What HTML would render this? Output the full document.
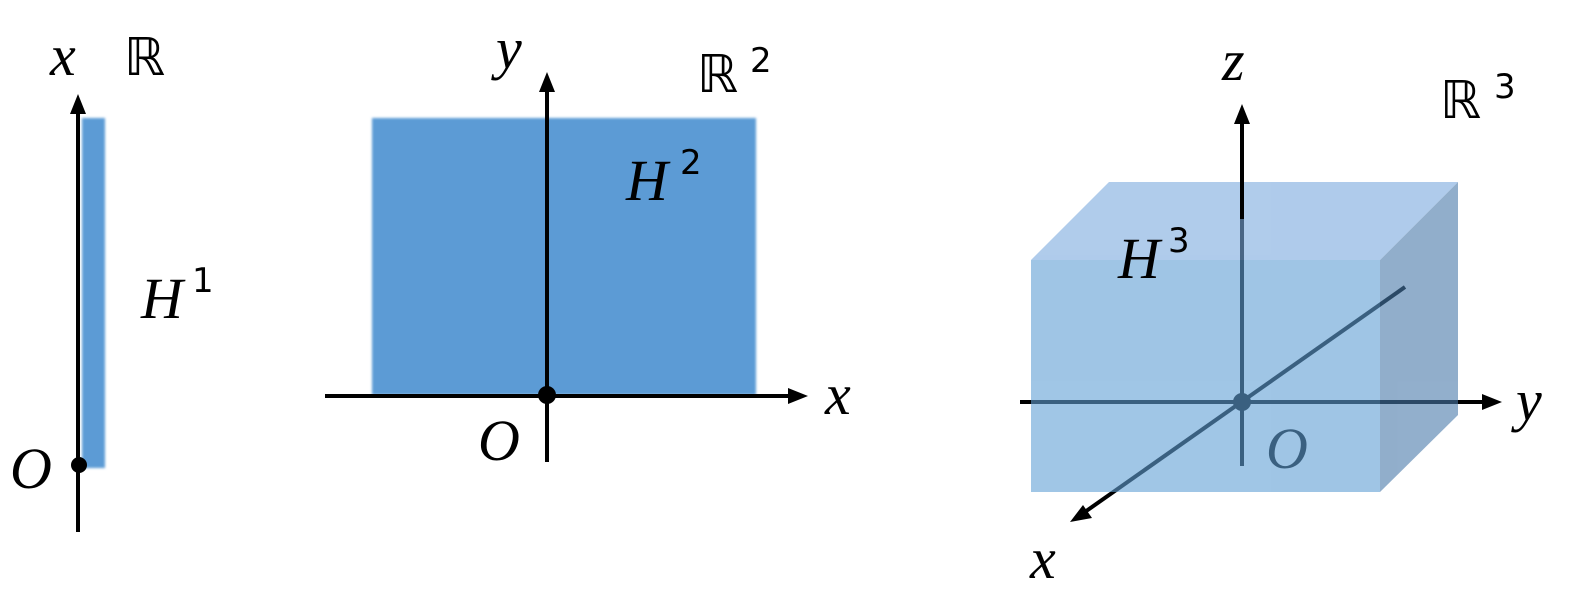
<!DOCTYPE html>
<html><head><style>html,body{margin:0;padding:0;background:#fff}svg{display:block}
text{font-family:"Liberation Serif","DejaVu Serif",serif;font-style:italic;fill:#000}
.r{font-style:normal;font-family:"DejaVu Sans","Liberation Sans",sans-serif}</style></head><body>
<svg width="1573" height="601" viewBox="0 0 1573 601" xmlns="http://www.w3.org/2000/svg">
<defs><filter id="b"><feGaussianBlur stdDeviation="1.2"/></filter></defs>
<!-- Left panel -->
<rect x="82" y="118" width="23" height="350" fill="#5b9bd5" filter="url(#b)"/>
<line x1="78" y1="110" x2="78" y2="532" stroke="#000" stroke-width="4"/>
<polygon points="78,94 70,114 86,114" fill="#000"/>
<circle cx="79" cy="465" r="8" fill="#000"/>
<text x="50" y="75" font-size="58">x</text>
<text x="124" y="75" font-size="52" class="r">ℝ</text>
<text x="141" y="318" font-size="58">H</text><text x="192" y="292" font-size="34" class="r">1</text>
<text x="10" y="488" font-size="58">O</text>
<!-- Middle panel -->
<rect x="372" y="118" width="384" height="277" fill="#5b9bd5" filter="url(#b)"/>
<line x1="547" y1="88" x2="547" y2="462" stroke="#000" stroke-width="4"/>
<polygon points="547,72 539,92 555,92" fill="#000"/>
<line x1="325" y1="396" x2="792" y2="396" stroke="#000" stroke-width="4"/>
<polygon points="808,396 788,388 788,404" fill="#000"/>
<circle cx="547" cy="395" r="9" fill="#000"/>
<text x="496" y="68" font-size="58">y</text>
<text x="697" y="92" font-size="52" class="r">ℝ</text><text x="750" y="72" font-size="34" class="r">2</text>
<text x="626" y="200" font-size="58">H</text><text x="680" y="174" font-size="34" class="r">2</text>
<text x="478" y="460" font-size="58">O</text>
<text x="825" y="414" font-size="58">x</text>
<!-- Right panel axes (behind box) -->
<line x1="1242" y1="120" x2="1242" y2="466" stroke="#000" stroke-width="4"/>
<polygon points="1242,104 1234,124 1250,124" fill="#000"/>
<line x1="1020" y1="402" x2="1486" y2="402" stroke="#000" stroke-width="4"/>
<polygon points="1502,402 1482,394 1482,410" fill="#000"/>
<line x1="1405" y1="287" x2="1082" y2="514" stroke="#000" stroke-width="4"/>
<polygon points="1070,522 1083,505 1092,518" fill="#000"/>
<circle cx="1242" cy="402" r="9" fill="#000"/>
<text x="1266" y="468" font-size="58" fill="#000">O</text>
<!-- Box -->
<g opacity="0.6">
<polygon points="1031,260 1109,182 1458,182 1380,260" fill="#7baade"/>
<polygon points="1380,260 1458,182 1458,415 1380,492" fill="#497aaa"/>
<rect x="1031" y="260" width="349" height="232" fill="#61a0d5"/>
</g>
<line x1="1242" y1="120" x2="1242" y2="219" stroke="#000" stroke-width="4"/>
<text x="1222" y="80" font-size="58">z</text>
<text x="1440" y="118" font-size="52" class="r">ℝ</text><text x="1494" y="98" font-size="34" class="r">3</text>
<text x="1118" y="278" font-size="58">H</text><text x="1168" y="252" font-size="34" class="r">3</text>
<text x="1516" y="420" font-size="58">y</text>
<text x="1030" y="578" font-size="58">x</text>
</svg>
</body></html>
